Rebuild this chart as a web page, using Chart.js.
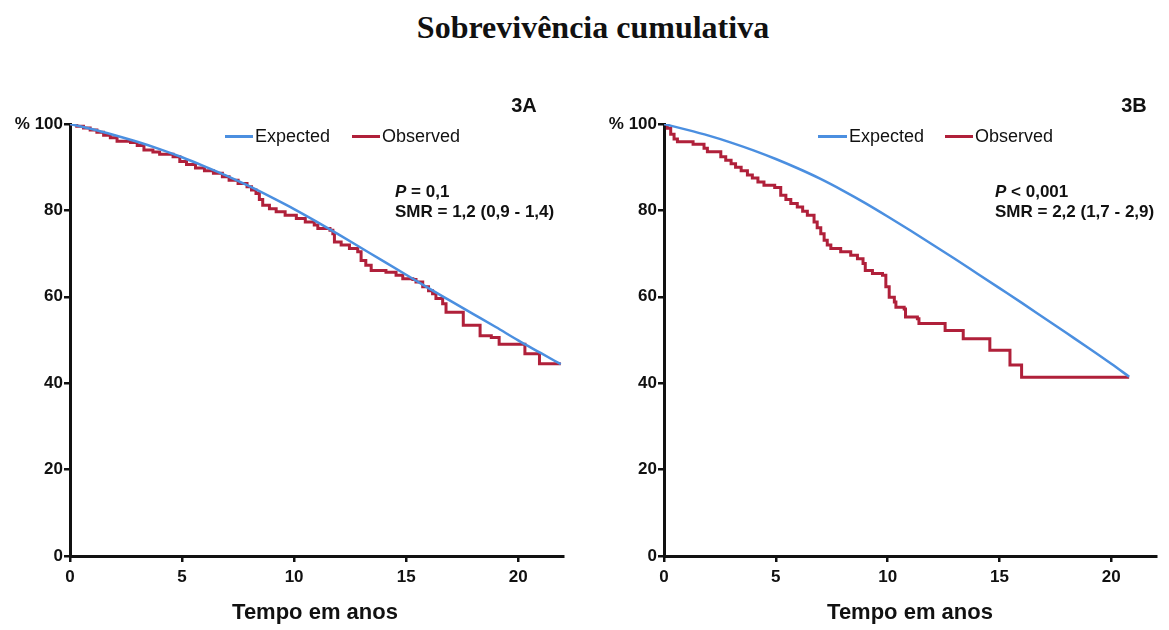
<!DOCTYPE html>
<html>
<head>
<meta charset="utf-8">
<script src="https://cdn.jsdelivr.net/npm/chart.js@4/dist/chart.umd.min.js"></script>
<style>
  body { margin: 0; background: #fff; width: 1169px; height: 630px; position: relative; overflow: hidden;
         font-family: "Liberation Sans", Arial, sans-serif; color: #111; }
  .txt { position: absolute; white-space: nowrap; line-height: 1; transform: translateY(-50%); }
  .ctr { transform: translate(-50%, -50%); }
  .b { font-weight: bold; }
  .leg { font-size: 18px; }
  .ann { font-size: 17px; font-weight: bold; }
  .swatch { position: absolute; height: 3px; }
  canvas { position: absolute; top: 0; }
</style>
</head>
<body>
<div class="txt ctr b" style="left:593px;top:27px;font-family:'Liberation Serif','Times New Roman',serif;font-size:32px;">Sobrevivência cumulativa</div>

<canvas id="chartA" style="left:0px" width="590" height="630"></canvas>
<canvas id="chartB" style="left:590px" width="579" height="630"></canvas>

<!-- panel A labels -->
<div class="txt ctr b" style="left:524px;top:105px;font-size:20px;">3A</div>
<div class="swatch" style="left:225px;top:135px;width:28px;background:#4b8fe0"></div>
<div class="txt leg" style="left:255px;top:136px;">Expected</div>
<div class="swatch" style="left:352px;top:135px;width:28px;background:#b0203a"></div>
<div class="txt leg" style="left:382px;top:136px;">Observed</div>
<div class="txt ann" style="left:395px;top:191px;"><i>P</i> = 0,1</div>
<div class="txt ann" style="left:395px;top:211px;">SMR = 1,2 (0,9 - 1,4)</div>
<div class="txt ctr b" style="left:315px;top:612px;font-size:22px;">Tempo em anos</div>

<!-- panel B labels -->
<div class="txt ctr b" style="left:1134px;top:105px;font-size:20px;">3B</div>
<div class="swatch" style="left:818px;top:135px;width:29px;background:#4b8fe0"></div>
<div class="txt leg" style="left:849px;top:136px;">Expected</div>
<div class="swatch" style="left:945px;top:135px;width:28px;background:#b0203a"></div>
<div class="txt leg" style="left:975px;top:136px;">Observed</div>
<div class="txt ann" style="left:995px;top:191px;"><i>P</i> &lt; 0,001</div>
<div class="txt ann" style="left:995px;top:211px;">SMR = 2,2 (1,7 - 2,9)</div>
<div class="txt ctr b" style="left:910px;top:612px;font-size:22px;">Tempo em anos</div>

<script>
// tick values
const xTickValues = [0, 5, 10, 15, 20];
const yTickValues = [0, 20, 40, 60, 80, 100];

// panel 3A
const expATime = [0, 1, 2, 3, 4, 5, 6, 7, 8, 9, 10, 11, 12, 13, 14, 15, 16, 17, 18, 19, 20, 21, 21.9];
const expAValue = [100, 98.8, 97.4, 95.9, 94.2, 92.3, 90.2, 88.0, 85.6, 83.0, 80.3, 77.4, 74.4, 71.3, 68.2, 65.1, 62.0, 59.0, 56.0, 53.0, 49.9, 47.0, 44.4];
const obsATime = [0, 0.3, 0.6, 0.9, 1.2, 1.5, 1.8, 2.1, 2.7, 3.0, 3.3, 3.7, 4.0, 4.6, 4.9, 5.2, 5.6, 6.0, 6.4, 6.8, 7.1, 7.5, 7.9,
  8.1, 8.3, 8.45, 8.6, 8.9, 9.2, 9.6, 10.1, 10.5, 10.9, 11.06, 11.6, 11.73, 11.8, 12.1, 12.47, 12.84, 12.99, 13.2, 13.44,
  14.1, 14.55, 14.85, 15.3, 15.44, 15.74, 16.0, 16.18, 16.33, 16.63, 16.78, 17.55, 18.3, 18.8, 19.15, 20.3, 20.95, 21.9];
const obsAValue = [100, 99.5, 99.1, 98.6, 98.1, 97.4, 96.8, 96.0, 95.7, 95.0, 94.0, 93.5, 93.0, 92.4, 91.3, 90.6, 89.8, 89.2, 88.6, 87.8, 87.0, 86.2, 85.5,
  84.7, 83.9, 82.5, 81.2, 80.4, 79.7, 78.9, 78.1, 77.3, 76.6, 75.8, 75.4, 74.6, 72.7, 72.0, 71.2, 70.4, 68.4, 67.3, 66.1,
  65.7, 65.0, 64.2, 64.0, 63.4, 62.3, 61.4, 60.7, 59.6, 58.4, 56.4, 53.4, 51.0, 50.6, 49.0, 46.8, 44.5, 44.5];

// panel 3B
const expBTime = [0, 1, 2, 3, 4, 5, 6, 7, 8, 9, 10, 11, 12, 13, 14, 15, 16, 17, 18, 19, 20, 20.8];
const expBValue = [100, 98.7, 97.3, 95.7, 93.9, 91.9, 89.7, 87.3, 84.6, 81.7, 78.6, 75.4, 72.1, 68.8, 65.4, 62.0, 58.6, 55.1, 51.6, 48.1, 44.5, 41.5];
const obsBTime = [0, 0.15, 0.3, 0.45, 0.6, 1.3, 1.79, 1.94, 2.54, 2.76, 3.0, 3.2, 3.45, 3.73, 3.95, 4.2, 4.47, 4.95, 5.22, 5.45, 5.67, 5.96,
  6.2, 6.41, 6.71, 6.85, 7.01, 7.16, 7.3, 7.46, 7.9, 8.35, 8.65, 8.9, 9.0, 9.32, 9.77, 9.92, 10.07, 10.3, 10.37, 10.74, 10.8,
  11.33, 11.4, 12.57, 13.38, 14.57, 15.47, 15.99, 20.8];
const obsBValue = [100, 99.0, 97.6, 96.5, 95.9, 95.3, 94.4, 93.6, 92.4, 91.6, 90.8, 90.0, 89.2, 88.2, 87.5, 86.6, 85.8, 85.3, 83.5, 82.5, 81.6, 80.8,
  79.8, 78.9, 77.3, 76.0, 74.6, 73.1, 72.0, 71.2, 70.4, 69.6, 68.8, 67.7, 66.1, 65.4, 65.0, 62.3, 59.9, 58.8, 57.6, 57.2, 55.3,
  54.9, 53.8, 52.2, 50.3, 47.6, 44.2, 41.4, 41.4];

const blue = "#4b8fe0";
const red = "#b0203a";
const tickFont = { family: "'Liberation Sans', Arial, sans-serif", size: 17, weight: "bold" };

const toPoints = (xs, ys) => xs.map((x, i) => ({ x: x, y: ys[i] }));

const makeChart = (id, expT, expV, obsT, obsV, yWidth, padRight) => {
  const ctx = document.getElementById(id).getContext("2d");
  return new Chart(ctx, {
    type: "line",
    data: {
      datasets: [
        {
          label: "Expected",
          data: toPoints(expT, expV),
          borderColor: blue,
          borderWidth: 2.5,
          pointRadius: 0,
          cubicInterpolationMode: "monotone",
          fill: false,
        },
        {
          label: "Observed",
          data: toPoints(obsT, obsV),
          borderColor: red,
          borderWidth: 3,
          pointRadius: 0,
          stepped: true,
          fill: false,
        },
      ],
    },
    options: {
      responsive: false,
      animation: false,
      layout: { padding: { top: 124, right: padRight, bottom: 0, left: 0 } },
      plugins: { legend: { display: false }, tooltip: { enabled: false } },
      scales: {
        x: {
          type: "linear",
          min: 0,
          max: 22,
          afterBuildTicks: (scale) => { scale.ticks = xTickValues.map((v) => ({ value: v })); },
          afterFit: (scale) => { scale.height = 74; },
          grid: { drawOnChartArea: false, drawTicks: true, tickLength: 6, color: "#111", lineWidth: 2.5 },
          border: { color: "#111", width: 3 },
          ticks: { font: tickFont, color: "#111", padding: 5, maxRotation: 0 },
        },
        y: {
          min: 0,
          max: 100,
          afterBuildTicks: (scale) => { scale.ticks = yTickValues.map((v) => ({ value: v })); },
          afterFit: (scale) => { scale.width = yWidth; },
          grid: { drawOnChartArea: false, drawTicks: true, tickLength: 6, color: "#111", lineWidth: 2.5 },
          border: { color: "#111", width: 3 },
          ticks: {
            font: tickFont,
            color: "#111",
            padding: 1,
            callback: (v) => (v === 100 ? "% 100" : v),
          },
        },
      },
    },
  });
};

makeChart("chartA", expATime, expAValue, obsATime, obsAValue, 70, 27);
makeChart("chartB", expBTime, expBValue, obsBTime, obsBValue, 74, 13);
</script>
</body>
</html>
